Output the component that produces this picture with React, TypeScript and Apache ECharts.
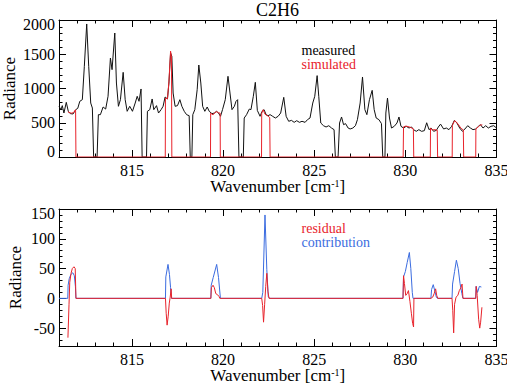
import { useEffect, useRef } from 'react';
import * as echarts from 'echarts';

// Measured spectrum (wavenumber in cm-1, radiance)
const measuredWn = [
  811.0, 811.11, 811.18, 811.27, 811.4, 811.51, 811.62, 811.77, 811.92, 812.03,
  812.14, 812.28, 812.39, 812.52, 812.63, 812.74, 812.83, 812.9, 813.09, 813.16,
  813.27, 813.42, 813.56, 813.69, 813.82, 813.91, 814.06, 814.15, 814.26, 814.37,
  814.52, 814.63, 814.74, 814.88, 815.03, 815.18, 815.29, 815.39, 815.5, 815.56,
  815.8, 815.85, 815.98, 816.11, 816.2, 816.35, 816.46, 816.6, 816.71, 816.82,
  816.95, 817.03, 817.12, 817.19, 817.26, 817.37, 817.5, 817.63, 817.74, 817.87,
  818.0, 818.14, 818.2, 818.29, 818.34, 818.45, 818.58, 818.67, 818.78, 818.88,
  819.0, 819.13, 819.24, 819.39, 819.53, 819.64, 819.75, 819.86, 819.97, 820.12,
  820.27, 820.38, 820.49, 820.62, 820.71, 820.8, 820.87, 821.11, 821.16, 821.29,
  821.44, 821.53, 821.66, 821.77, 821.88, 822.03, 822.14, 822.25, 822.36, 822.47,
  822.58, 822.72, 822.87, 823.02, 823.16, 823.33, 823.46, 823.6, 823.75, 823.9,
  824.04, 824.19, 824.33, 824.5, 824.63, 824.77, 824.92, 825.03, 825.16, 825.25,
  825.36, 825.51, 825.65, 825.8, 825.95, 826.09, 826.16, 826.31, 826.39, 826.5,
  826.61, 826.72, 826.86, 826.97, 827.12, 827.26, 827.37, 827.52, 827.65, 827.78,
  827.89, 828.03, 828.18, 828.29, 828.4, 828.55, 828.69, 828.76, 828.88, 828.93,
  829.02, 829.13, 829.24, 829.39, 829.54, 829.65, 829.76, 829.9, 830.05, 830.2,
  830.34, 830.45, 830.6, 830.74, 830.89, 831.04, 831.17, 831.3, 831.41, 831.55,
  831.7, 831.81, 831.93, 832.1, 832.25, 832.39, 832.54, 832.69, 832.83, 832.98,
  833.13, 833.27, 833.42, 833.57, 833.71, 833.86, 834.01, 834.12, 834.26, 834.41,
  834.55, 834.7, 834.85, 835.0,
];
const measuredRad = [
  740, 691, 750, 642, 798, 667, 633, 628, 691, 711,
  813, 837, 1324, 1942, 1324, 788, 715, 0, 0, 618,
  618, 730, 700, 886, 1445, 1275, 1810, 1080, 740, 837,
  1236, 837, 667, 740, 667, 788, 886, 813, 993, 0,
  0, 667, 691, 847, 691, 750, 642, 691, 740, 876,
  847, 1080, 1518, 1470, 934, 740, 750, 837, 740, 667,
  618, 603, 0, 0, 618, 691, 983, 1343, 1080, 740,
  667, 730, 667, 633, 642, 667, 642, 594, 691, 837,
  1178, 934, 691, 740, 813, 837, 0, 0, 569, 618,
  700, 691, 886, 1090, 680, 594, 667, 691, 618, 603,
  618, 594, 569, 594, 642, 871, 594, 521, 535, 506,
  530, 506, 521, 506, 545, 569, 788, 886, 1188, 886,
  496, 457, 438, 457, 423, 399, 0, 0, 496, 584,
  472, 487, 423, 409, 423, 457, 545, 788, 1168, 691,
  618, 837, 973, 691, 569, 545, 487, 0, 0, 642,
  861, 569, 423, 448, 496, 584, 448, 423, 448, 423,
  438, 399, 375, 399, 375, 384, 500, 399, 423, 375,
  389, 438, 480, 409, 423, 399, 448, 535, 496, 423,
  375, 409, 457, 423, 399, 409, 448, 472, 423, 457,
  423, 448, 457, 423,
];

// Simulated spectrum, non-zero only inside the fitting windows
const simulatedWn = [
  811.49, 811.6, 811.7, 811.8, 811.91, 811.93,
  816.83, 816.84, 816.95, 817.03, 817.12, 817.17, 817.19,
  819.31, 819.32, 819.45, 819.55, 819.65, 819.76, 819.84, 819.85,
  822.11, 822.12, 822.2, 822.3, 822.45, 822.56, 822.58,
  829.88, 829.9, 830.0, 830.15, 830.3, 830.44, 830.46,
  831.37, 831.38, 831.5, 831.62, 831.75, 831.77,
  832.57, 832.58, 832.7, 832.8, 832.92, 833.05, 833.18, 833.2,
  833.86, 833.87, 834.0, 834.1, 834.22,
];
const simulatedRad = [
  660, 645, 640, 650, 690, 0,
  0, 860, 850, 1100, 1545, 1460, 0,
  0, 640, 615, 650, 660, 645, 640, 0,
  0, 640, 690, 625, 600, 575, 0,
  0, 440, 450, 445, 430, 410, 0,
  0, 420, 395, 400, 390, 0,
  0, 460, 530, 510, 470, 420, 395, 0,
  0, 410, 440, 465, 470,
];

// Gas contribution
const contributionWn = [
  811.0, 811.48, 811.5, 811.56, 811.65, 811.76, 811.84, 811.9, 811.93,
  816.84, 816.86, 816.98, 817.06, 817.12, 817.17,
  819.33, 819.35, 819.46, 819.65, 819.75, 819.85, 819.87,
  822.12, 822.18, 822.3, 822.4, 822.48, 822.56,
  829.87, 829.9, 830.0, 830.1, 830.22, 830.3, 830.38, 830.42,
  831.4, 831.44, 831.53, 831.62, 831.7, 831.76,
  832.56, 832.59, 832.7, 832.8, 832.9, 833.0, 833.1, 833.16,
  833.86, 833.88, 833.96, 834.06, 834.17,
];
const contributionVal = [
  0, 0, 22, 33, 40, 43, 38, 20, 0,
  0, 36, 57, 40, 18, 0,
  0, 22, 35, 57, 35, 2, 0,
  0, 10, 140, 48, 3, 0,
  0, 36, 45, 60, 77, 50, 10, 0,
  0, 15, 23, 12, 2, 0,
  0, 24, 45, 64, 50, 25, 8, 0,
  0, 20, 10, 20, 19,
];

// Fit residual
const residualWn = [
  811.49, 811.55, 811.59, 811.66, 811.73, 811.82, 811.89, 811.93,
  816.84, 816.88, 816.93, 816.99, 817.05, 817.1, 817.15, 817.18,
  819.33, 819.36, 819.45, 819.52, 819.6, 819.7, 819.78, 819.82,
  822.12, 822.17, 822.22, 822.28, 822.34, 822.4, 822.46, 822.52,
  829.87, 829.9, 829.95, 830.02, 830.1, 830.17, 830.25, 830.33, 830.4, 830.45, 830.47,
  831.4, 831.5, 831.58, 831.66, 831.72, 831.78,
  832.56, 832.6, 832.65, 832.7, 832.78, 832.88, 832.96, 833.05, 833.11, 833.16,
  833.86, 833.89, 833.94, 834.02, 834.08, 834.13, 834.2,
];
const residualVal = [
  -66, -10, 27, 42, 50, 53, 50, 0,
  0, -25, -45, -30, -8, 2, 16, 0,
  0, 18, 22, 18, 8, 6, 3, 0,
  0, -12, -40, -10, 20, 42, 12, 0,
  0, 38, 25, 5, 8, 13, -5, -25, -42, -48, 0,
  0, 2, 8, 16, 5, 0,
  0, -20, -58, -10, 2, 5, 13, 18, 24, 0,
  0, 20, 5, -35, -50, -40, -15,
];

const xMajorTicks = [815, 820, 825, 830, 835];
const yLowerMajorTicks = [-50, 0, 50, 100, 150];

const SERIF = 'Liberation Serif';
const RED = '#e8232b';
const BLUE = '#3b6ce0';
const INK = '#000';

const zip = (xs: number[], ys: number[]) => xs.map((x, i) => [x, ys[i]]);

const line = { show: true, onZero: false, lineStyle: { color: INK, width: 1 } };
const noLine = { show: false, onZero: false };
const tickStyle = { color: INK, width: 1 };

const xAxisName = '{n|Wavenumber [cm}{s|-1}{n|]}';
const nameStyle = {
  color: INK,
  fontFamily: SERIF,
  fontSize: 17,
  lineHeight: 17,
  rich: {
    n: { fontFamily: SERIF, fontSize: 17, lineHeight: 17, color: INK },
    s: { fontFamily: SERIF, fontSize: 10, lineHeight: 10, color: INK, verticalAlign: 'top' },
  },
};
const tickLabel = { color: INK, fontFamily: SERIF, fontSize: 16, lineHeight: 15 };

function xAxesFor(gridIndex: number, nameGap: number) {
  const base = { type: 'value', gridIndex, min: 811, max: 835, splitLine: { show: false } };
  return [
    {
      ...base,
      position: 'bottom',
      axisLine: line,
      axisTick: { inside: true, length: 7, customValues: xMajorTicks, lineStyle: tickStyle },
      axisLabel: { ...tickLabel, customValues: xMajorTicks, margin: 6 },
      name: xAxisName,
      nameLocation: 'middle',
      nameGap,
      nameMoveOverlap: false,
      nameTextStyle: nameStyle,
    },
    {
      ...base,
      position: 'bottom',
      interval: 1,
      axisLine: noLine,
      axisTick: { inside: true, length: 3.5, lineStyle: tickStyle },
      axisLabel: { show: false },
    },
    {
      ...base,
      position: 'top',
      axisLine: line,
      axisTick: { inside: true, length: 7, customValues: xMajorTicks, lineStyle: tickStyle },
      axisLabel: { show: false },
    },
    {
      ...base,
      position: 'top',
      interval: 1,
      axisLine: noLine,
      axisTick: { inside: true, length: 3.5, lineStyle: tickStyle },
      axisLabel: { show: false },
    },
  ];
}

const upperLabel = {
  ...tickLabel,
  margin: 4,
  formatter: (v: number) => (v === 0 ? '{lo|0}' : v === 2000 ? '{hi|2000}' : String(v)),
  rich: {
    lo: { ...tickLabel, padding: [0, 0, 11, 0] },
    hi: { ...tickLabel, padding: [8, 0, 0, 0] },
  },
};
const lowerLabel = {
  ...tickLabel,
  margin: 4,
  customValues: yLowerMajorTicks,
  formatter: (v: number) => (v === 150 ? '{hi|150}' : String(v)),
  rich: { hi: { ...tickLabel, padding: [9, 0, 0, 0] } },
};

// Two-line key drawn inside a panel
function keyText(y: number, first: string, firstColor: string, second: string, secondColor: string) {
  return {
    type: 'text',
    x: 301.5,
    y,
    style: {
      text: `{a|${first}}\n{b|${second}}`,
      align: 'left',
      verticalAlign: 'top',
      rich: {
        a: { fill: firstColor, fontFamily: SERIF, fontSize: 14, lineHeight: 14 },
        b: { fill: secondColor, fontFamily: SERIF, fontSize: 14, lineHeight: 14 },
      },
    },
  };
}

function App() {
  const ref = useRef<HTMLDivElement>(null);

  useEffect(() => {
    if (!ref.current) return;
    const chart = echarts.init(ref.current, null, { renderer: 'svg' });

    const upperY = {
      type: 'value',
      gridIndex: 0,
      min: 0,
      max: 2000,
      interval: 500,
      splitLine: { show: false },
      axisLine: line,
      axisTick: { inside: true, length: 7, lineStyle: tickStyle },
      minorTick: { show: true, splitNumber: 5, length: 3.5, lineStyle: tickStyle },
    };
    const lowerBase = { type: 'value', gridIndex: 1, min: -80, max: 150, splitLine: { show: false } };

    chart.setOption({
      animation: false,
      backgroundColor: '#fff',
      grid: [
        { left: 59, top: 20, width: 437.5, height: 137, containLabel: false, outerBoundsMode: 'none' },
        { left: 59, top: 209, width: 437.5, height: 137, containLabel: false, outerBoundsMode: 'none' },
      ],
      xAxis: [...xAxesFor(0, 21), ...xAxesFor(1, 21)],
      yAxis: [
        {
          ...upperY,
          position: 'left',
          axisLabel: upperLabel,
          name: 'Radiance',
          nameLocation: 'middle',
          nameGap: 41,
          nameMoveOverlap: false,
          nameTextStyle: { color: INK, fontFamily: SERIF, fontSize: 17 },
        },
        { ...upperY, position: 'right', axisLabel: { show: false } },
        {
          ...lowerBase,
          position: 'left',
          axisLine: line,
          axisTick: { inside: true, length: 7, customValues: yLowerMajorTicks, lineStyle: tickStyle },
          axisLabel: lowerLabel,
          name: 'Radiance',
          nameLocation: 'middle',
          nameGap: 35,
          nameMoveOverlap: false,
          nameTextStyle: { color: INK, fontFamily: SERIF, fontSize: 17 },
        },
        {
          ...lowerBase,
          position: 'left',
          interval: 10,
          axisLine: noLine,
          axisTick: { inside: true, length: 3.5, lineStyle: tickStyle },
          axisLabel: { show: false },
        },
        {
          ...lowerBase,
          position: 'right',
          axisLine: line,
          axisTick: { inside: true, length: 7, customValues: yLowerMajorTicks, lineStyle: tickStyle },
          axisLabel: { show: false },
        },
        {
          ...lowerBase,
          position: 'right',
          interval: 10,
          axisLine: noLine,
          axisTick: { inside: true, length: 3.5, lineStyle: tickStyle },
          axisLabel: { show: false },
        },
      ],
      series: [
        {
          name: 'measured',
          type: 'line',
          xAxisIndex: 0,
          yAxisIndex: 0,
          data: zip(measuredWn, measuredRad),
          showSymbol: false,
          lineStyle: { color: '#111', width: 1 },
          itemStyle: { color: '#111' },
          z: 2,
        },
        {
          name: 'simulated',
          type: 'line',
          xAxisIndex: 0,
          yAxisIndex: 0,
          data: zip(simulatedWn, simulatedRad),
          showSymbol: false,
          lineStyle: { color: RED, width: 1 },
          itemStyle: { color: RED },
          z: 3,
        },
        {
          name: 'contribution',
          type: 'line',
          xAxisIndex: 4,
          yAxisIndex: 2,
          data: zip(contributionWn, contributionVal),
          showSymbol: false,
          lineStyle: { color: BLUE, width: 1 },
          itemStyle: { color: BLUE },
          z: 2,
        },
        {
          name: 'residual',
          type: 'line',
          xAxisIndex: 4,
          yAxisIndex: 2,
          data: zip(residualWn, residualVal),
          showSymbol: false,
          lineStyle: { color: RED, width: 1 },
          itemStyle: { color: RED },
          z: 3,
        },
      ],
      graphic: [
        {
          type: 'text',
          x: 277.5,
          y: 9.8,
          style: {
            text: 'C2H6',
            fill: INK,
            fontFamily: SERIF,
            fontSize: 18,
            align: 'center',
            verticalAlign: 'middle',
          },
        },
        keyText(43, 'measured', INK, 'simulated', RED),
        keyText(221.4, 'residual', RED, 'contribution', BLUE),
      ],
    });

    return () => chart.dispose();
  }, []);

  return <div ref={ref} style={{ position: 'absolute', left: 0, top: 0, width: 507, height: 384 }} />;
}

export default App;
